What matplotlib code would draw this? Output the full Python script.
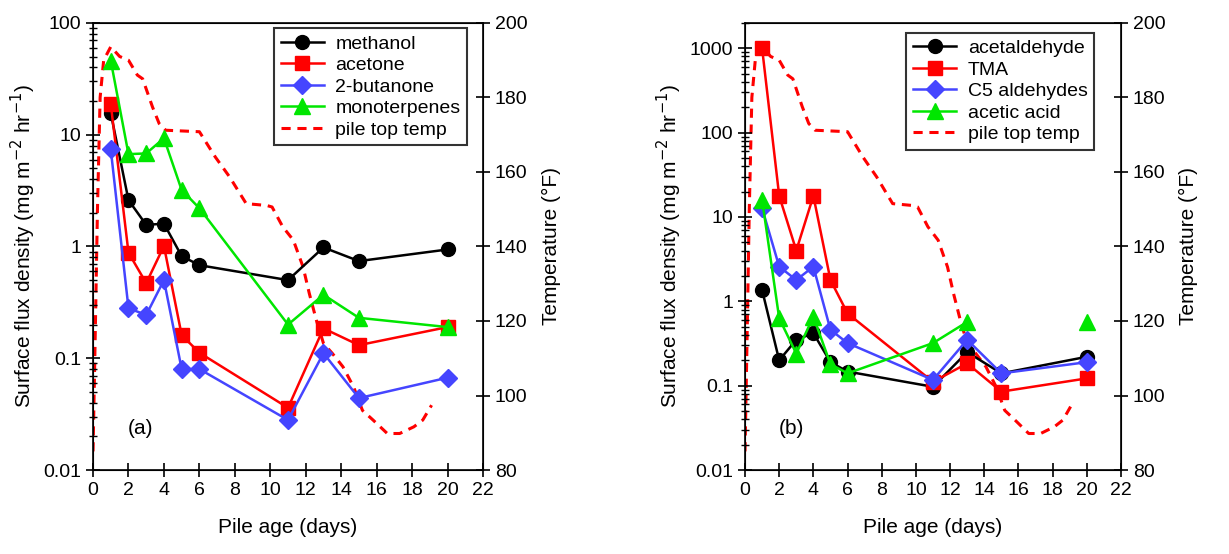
import numpy as np
import matplotlib
matplotlib.use('Agg')
import matplotlib.pyplot as plt
from matplotlib.ticker import FixedLocator, FuncFormatter, LogLocator, NullFormatter

plt.rcParams['font.family'] = ['Liberation Sans Narrow', 'Liberation Sans', 'DejaVu Sans']

days = [1, 2, 3, 4, 5, 6, 11, 13, 15, 20]

# panel (a)
methanol = [15.6, 2.6, 1.56, 1.6, 0.82, 0.68, 0.50, 0.98, 0.74, 0.94]
acetone = [18.8, 0.88, 0.47, 1.01, 0.161, 0.112, 0.036, 0.185, 0.131, 0.19]
butanone = [7.4, 0.28, 0.244, 0.50, 0.080, 0.080, 0.028, 0.111, 0.044, 0.067]
monoterpenes = [46, 6.7, 6.8, 9.3, 3.2, 2.2, 0.20, 0.37, 0.23, 0.19]

# panel (b)
acetaldehyde = [1.36, 0.20, 0.35, 0.42, 0.19, 0.147, 0.097, 0.25, 0.14, 0.22]
tma = [1000, 17.8, 4.0, 17.8, 1.79, 0.72, 0.111, 0.184, 0.085, 0.122]
c5_aldehydes = [12.7, 2.58, 1.79, 2.58, 0.46, 0.32, 0.117, 0.35, 0.14, 0.19]
acetic_days = [1, 2, 3, 4, 5, 6, 11, 13]
acetic_acid = [16, 0.63, 0.24, 0.66, 0.18, 0.14, 0.32, 0.57]
acetic_extra_day = [20]
acetic_extra = [0.57]

# pile top temperature (deg F)
temp_day = [0.0, 0.1, 0.25, 0.4, 0.6, 1.0, 1.5, 2.0, 2.5, 2.8, 3.35, 3.73, 4.1, 6.0,
            6.9, 7.7, 8.64, 9.8, 10.1, 10.7, 11.3, 11.85, 12.2, 12.6, 13.0, 13.5,
            14.1, 14.7, 15.2, 15.8, 16.6, 17.3, 18.1, 18.6, 19.1]
temp_F = [85, 110, 150, 180, 190, 193.6, 191, 190, 186, 185, 177.5, 173, 171.2, 170.8,
          164, 158.7, 151.5, 151, 150.6, 145.3, 141.7, 134.5, 127.4, 120.2, 114, 111.3,
          107.7, 102.3, 96, 93.4, 89.8, 89.8, 91.6, 93.4, 97.4]

blue = '#4545ff'
green = '#00e600'
ms = 10


def fmt(v, pos):
    return ('%g' % v)


def setup(ax, ymax, yticks, label):
    ax.set_yscale('log')
    ax.set_xlim(0, 22)
    ax.set_ylim(0.01, ymax)
    ax.set_xticks(range(0, 23, 2))
    ax.yaxis.set_major_locator(FixedLocator(yticks))
    ax.yaxis.set_major_formatter(FuncFormatter(fmt))
    ax.yaxis.set_minor_locator(LogLocator(base=10, subs=np.arange(2, 10)))
    ax.yaxis.set_minor_formatter(NullFormatter())
    ax.tick_params(axis='both', which='major', direction='inout', length=10,
                   width=1.2, labelsize=14)
    ax.tick_params(axis='y', which='minor', direction='inout', length=6, width=1)
    ax.set_xlabel('Pile age (days)', fontsize=15, labelpad=14)
    ax.set_ylabel('Surface flux density (mg m$^{-2}$ hr$^{-1}$)', fontsize=15)
    ax.text(0.09, 0.08, label, transform=ax.transAxes, fontsize=15)
    for s in ax.spines.values():
        s.set_linewidth(1.2)


def temp_axis(ax):
    ax2 = ax.twinx()
    line, = ax2.plot(temp_day, temp_F, color='red', ls=(0, (3, 2.2)), lw=2.2)
    ax2.set_ylim(80, 200)
    ax2.set_yticks(range(80, 201, 20))
    ax2.tick_params(axis='y', direction='inout', length=10, width=1.2, labelsize=14)
    ax2.set_ylabel('Temperature (°F)', fontsize=15, labelpad=10)
    return line


fig = plt.figure(figsize=(12.29, 5.54), dpi=100)
ax1 = fig.add_axes([0.0757, 0.1516, 0.3173, 0.807])
ax3 = fig.add_axes([0.6062, 0.1516, 0.3059, 0.807])

# (a)
setup(ax1, 100, [0.01, 0.1, 1, 10, 100], '(a)')
t1 = temp_axis(ax1)
ax1.set_zorder(2)
ax1.patch.set_visible(False)
h = []
h += ax1.plot(days, methanol, '-o', color='black', lw=1.8, ms=ms, label='methanol')
h += ax1.plot(days, acetone, '-s', color='red', lw=1.8, ms=ms - 0.5, label='acetone')
h += ax1.plot(days, butanone, '-D', color=blue, lw=1.8, ms=ms - 1, label='2-butanone')
h += ax1.plot(days, monoterpenes, '-^', color=green, lw=1.8, ms=ms + 1, label='monoterpenes')
t1.set_label('pile top temp')
leg = ax1.legend(h + [t1], [x.get_label() for x in h + [t1]], loc='upper right',
                 bbox_to_anchor=(0.985, 1.01), fontsize=14, frameon=True, fancybox=False,
                 edgecolor='black', handlelength=2.2, borderpad=0.35, labelspacing=0.2,
                 handletextpad=0.6)
leg.get_frame().set_linewidth(1.5)

# (b)
setup(ax3, 2000, [0.01, 0.1, 1, 10, 100, 1000], '(b)')
t2 = temp_axis(ax3)
ax3.set_zorder(2)
ax3.patch.set_visible(False)
h = []
h += ax3.plot(days, acetaldehyde, '-o', color='black', lw=1.8, ms=ms, label='acetaldehyde')
h += ax3.plot(days, tma, '-s', color='red', lw=1.8, ms=ms - 0.5, label='TMA')
h += ax3.plot(days, c5_aldehydes, '-D', color=blue, lw=1.8, ms=ms - 1, label='C5 aldehydes')
h += ax3.plot(acetic_days, acetic_acid, '-^', color=green, lw=1.8, ms=ms + 1, label='acetic acid')
ax3.plot(acetic_extra_day, acetic_extra, '^', color=green, ms=ms + 1)
t2.set_label('pile top temp')
leg = ax3.legend(h + [t2], [x.get_label() for x in h + [t2]], loc='upper right',
                 bbox_to_anchor=(0.955, 1.0), fontsize=14, frameon=True, fancybox=False,
                 edgecolor='black', handlelength=2.2, borderpad=0.35, labelspacing=0.2,
                 handletextpad=0.6)
leg.get_frame().set_linewidth(1.5)

plt.savefig('out.png', dpi=100)
